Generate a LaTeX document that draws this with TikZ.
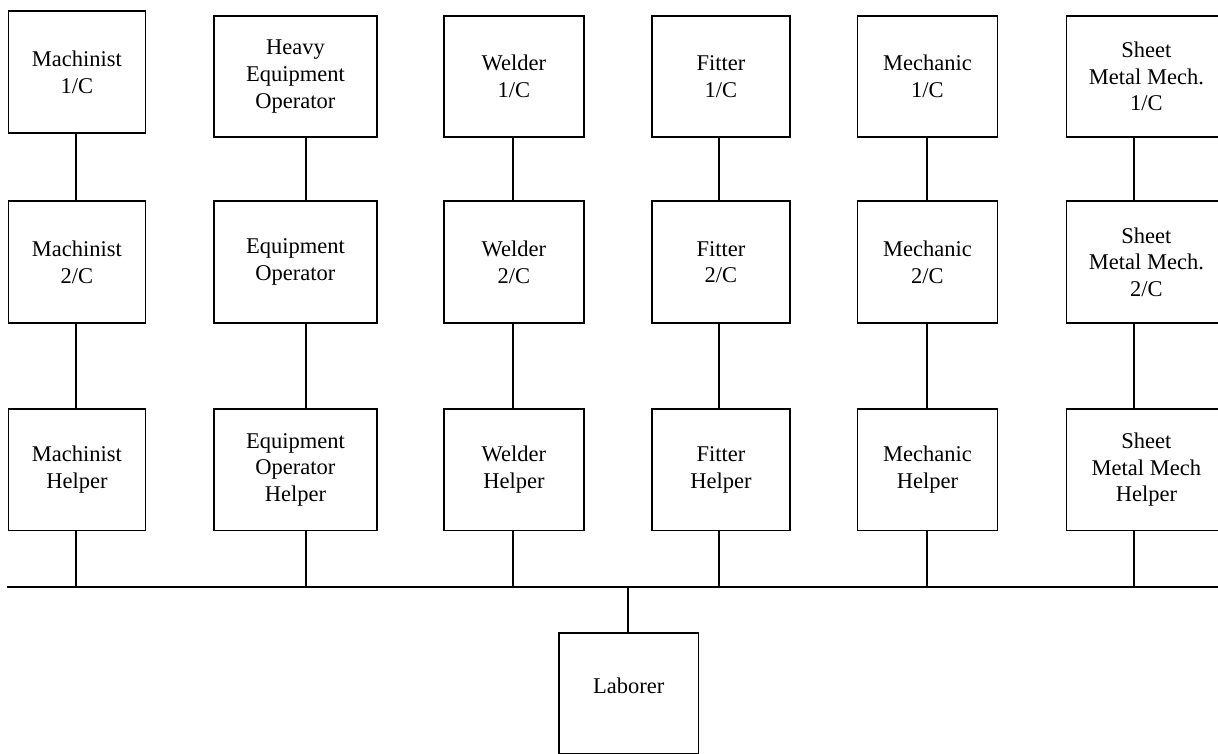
\documentclass[tikz,border=0pt]{standalone}
\usepackage{fontspec}
\setmainfont{Liberation Serif}
\begin{document}
\begin{tikzpicture}[x=1pt,y=-1pt,
  role/.style={draw, line width=1.8pt, anchor=north west, inner sep=0pt,
    align=center, font=\fontsize{22.5}{26.7}\selectfont},
  link/.style={line width=1.6pt}]
\useasboundingbox (0,0) rectangle (1218,754);
\clip (0,0) rectangle (1218,754);

% top row: first-class grades
\node[role, minimum width=137pt, minimum height=121.5pt] (m1) at (7.5,10.5) {Machinist\\1/C};
\node[role, minimum width=163pt, minimum height=121pt] (e1) at (213,15) {Heavy\\Equipment\\Operator};
\node[role, minimum width=140pt, minimum height=121pt] (w1) at (443,15) {Welder\\1/C};
\node[role, minimum width=138pt, minimum height=121pt] (f1) at (651,15) {Fitter\\1/C};
\node[role, minimum width=140pt, minimum height=121pt] (k1) at (856.5,15) {Mechanic\\1/C};
\node[role, minimum width=160pt, minimum height=121pt] (s1) at (1065.5,15) {Sheet\\Metal Mech.\\1/C};

% middle row: second-class grades
\node[role, minimum width=137pt, minimum height=121.5pt] (m2) at (7.5,200.5) {Machinist\\2/C};
\node[role, minimum width=163pt, minimum height=121.5pt] (e2) at (213,200.5) {Equipment\\Operator};
\node[role, minimum width=140pt, minimum height=121.5pt] (w2) at (443,200.5) {Welder\\2/C};
\node[role, minimum width=138pt, minimum height=121.5pt] (f2) at (651,200.5) {Fitter\\2/C};
\node[role, minimum width=140pt, minimum height=121.5pt] (k2) at (856.5,200.5) {Mechanic\\2/C};
\node[role, minimum width=160pt, minimum height=121.5pt] (s2) at (1065.5,200.5) {Sheet\\Metal Mech.\\2/C};

% bottom row: helpers
\node[role, minimum width=137pt, minimum height=121.5pt] (m3) at (7.5,408) {Machinist\\Helper};
\node[role, minimum width=163pt, minimum height=121.5pt] (e3) at (213,408) {Equipment\\Operator\\Helper};
\node[role, minimum width=140pt, minimum height=121.5pt] (w3) at (443,408) {Welder\\Helper};
\node[role, minimum width=138pt, minimum height=121.5pt] (f3) at (651,408) {Fitter\\Helper};
\node[role, minimum width=140pt, minimum height=121.5pt] (k3) at (856.5,408) {Mechanic\\Helper};
\node[role, minimum width=160pt, minimum height=121.5pt] (s3) at (1065.5,408) {Sheet\\Metal Mech\\Helper};

% entry level
\node[role, minimum width=139.5pt, minimum height=121pt,
  label={[font=\fontsize{22.5}{26.7}\selectfont, yshift=8pt]center:Laborer}] (lab) at (558,632) {};

% bus and column drop points
\coordinate (busL) at (7,587);
\coordinate (busR) at (1218,587);
\coordinate (cm) at (76,587);
\coordinate (ce) at (306,587);
\coordinate (cw) at (513,587);
\coordinate (cf) at (719,587);
\coordinate (ck) at (927,587);
\coordinate (cs) at (1134,587);
\coordinate (cl) at (628,587);

\draw[link] (busL) -- (busR);

\foreach \c in {m,e,w,f,k,s}{
  \draw[link] (\c1.south -| c\c) -- (\c2.north -| c\c);
  \draw[link] (\c2.south -| c\c) -- (\c3.north -| c\c);
  \draw[link] (\c3.south -| c\c) -- (c\c);
}
\draw[link] (cl) -- (cl |- lab.north);
\end{tikzpicture}
\end{document}
